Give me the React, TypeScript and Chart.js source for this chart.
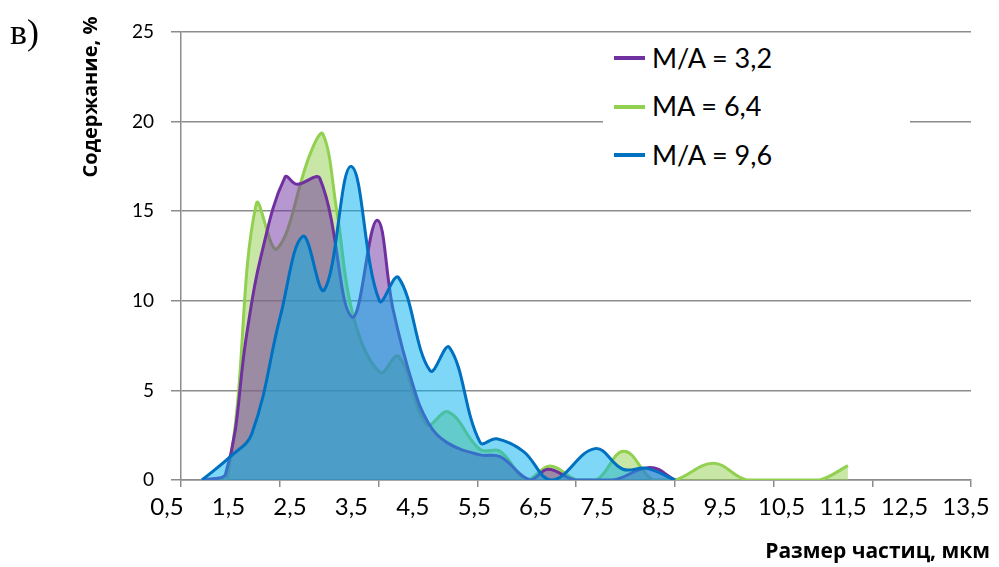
import React, { useEffect, useRef } from 'react';
import { Chart, registerables } from 'chart.js';

Chart.register(...registerables);

// ---- data ----
const seriesNames = ['M/A = 3,2', 'MA = 6,4', 'M/A = 9,6'];

const purpleX = [1.09, 1.45, 1.8, 2.017, 2.42, 2.61, 2.99, 3.508, 3.915, 4.18, 4.51, 4.75, 5.05, 5.594, 5.92, 6.41, 6.7, 7.14, 7.76, 8.36, 8.765];
const purpleY = [0, 0.3, 8.2, 12.3, 16.9, 16.5, 16.8, 9.1, 14.5, 9.5, 5.2, 3.2, 2.1, 1.4, 1.3, 0, 0.6, 0, 0, 0.7, 0];

const greenX = [1.09, 1.476, 1.952, 2.289, 2.83, 3.037, 3.264, 3.534, 3.968, 4.266, 4.728, 5.079, 5.594, 5.92, 6.354, 6.733, 7.167, 7.49, 7.936, 8.407, 8.765, 9.39, 9.93, 10.63, 11.12, 11.58];
const greenY = [0, 0, 15.4, 12.9, 18.2, 19.3, 15, 9.1, 6.0, 6.9, 3.1, 3.8, 1.7, 1.6, 0, 0.78, 0, 0, 1.6, 0, 0, 0.93, 0, 0, 0, 0.8];

const blueX = [1.069, 1.529, 1.882, 2.342, 2.711, 3.058, 3.497, 3.957, 4.266, 4.781, 5.095, 5.594, 5.866, 6.298, 6.76, 7.464, 7.919, 8.305, 8.765];
const blueY = [0, 1.3, 2.6, 9.1, 13.6, 10.6, 17.5, 10.0, 11.3, 6.1, 7.4, 2.1, 2.3, 1.6, 0, 1.75, 0.6, 0.65, 0];

const xTickValues = [0.5, 1.5, 2.5, 3.5, 4.5, 5.5, 6.5, 7.5, 8.5, 9.5, 10.5, 11.5, 12.5, 13.5];
const xMin = 0.728;
const xMax = 13.582;
const yMin = 0;
const yMax = 25;
const yStep = 5;

const xTitle = 'Размер частиц, мкм';
const yTitle = 'Содержание, %';
const panelLabel = 'в)';

const LINE_COLORS = ['#7030A0', '#92D050', '#0070C0'];
const FILL_COLORS = ['rgba(112,48,160,0.5)', 'rgba(146,208,80,0.5)', 'rgba(0,176,240,0.5)'];
const GRID = '#8c8c8c';

const toPoints = (xs: number[], ys: number[]) => xs.map((x, i) => ({ x, y: ys[i] }));

export default function App() {
  const ref = useRef<HTMLCanvasElement>(null);

  useEffect(() => {
    const seriesX = [purpleX, greenX, blueX];
    const seriesY = [purpleY, greenY, blueY];
    const orders = [2, 3, 1];
    const chart = new Chart(ref.current as HTMLCanvasElement, {
      type: 'line',
      data: {
        datasets: seriesNames.map((name, i) => ({
          label: name,
          data: toPoints(seriesX[i], seriesY[i]),
          borderColor: LINE_COLORS[i],
          backgroundColor: FILL_COLORS[i],
          borderWidth: 3,
          fill: 'origin',
          tension: 0.4,
          pointRadius: 0,
          order: orders[i],
        })),
      },
      options: {
        responsive: false,
        animation: false,
        devicePixelRatio: 1,
        layout: { padding: { top: 32, right: 28, bottom: 0, left: 0 } },
        plugins: {
          legend: { display: false },
          tooltip: { enabled: false },
        },
        scales: {
          x: {
            type: 'linear',
            position: 'bottom',
            weight: 1,
            min: xMin,
            max: xMax,
            grid: { display: false },
            border: { display: false },
            afterBuildTicks: (scale: any) => {
              scale.ticks = xTickValues.map((v) => ({ value: v }));
            },
            afterFit: (scale: any) => {
              scale.height = 80;
            },
            ticks: {
              autoSkip: false,
              maxRotation: 0,
              minRotation: 0,
              padding: -2,
              color: '#000',
              font: { family: 'Lato', size: 24 },
              callback: (v: any) => Number(v).toFixed(1).replace('.', ','),
            },
          },
          xt: {
            type: 'linear',
            axis: 'x',
            position: 'bottom',
            weight: 0,
            min: 0,
            max: 8,
            ticks: { display: false, stepSize: 1 },
            grid: { drawOnChartArea: false, drawTicks: true, tickLength: 7, color: GRID, lineWidth: 1.5 },
            border: { display: true, color: GRID, width: 1.5 },
            afterFit: (scale: any) => {
              scale.height = 7;
            },
          },
          y: {
            type: 'linear',
            min: yMin,
            max: yMax,
            afterFit: (scale: any) => {
              scale.width = 181;
            },
            grid: { color: GRID, lineWidth: 1.5, tickLength: 10 },
            border: { display: true, color: GRID, width: 1.5 },
            ticks: {
              stepSize: yStep,
              padding: 17,
              color: '#000',
              font: { family: 'Lato', size: 19 },
            },
          },
        },
      } as any,
    });
    return () => chart.destroy();
  }, []);

  const legendRows = [58, 106.5, 155];

  return (
    <div style={{ position: 'absolute', left: 0, top: 0, width: 999, height: 567, background: '#fff', overflow: 'hidden' }}>
      <canvas ref={ref} width={999} height={567} style={{ position: 'absolute', left: 0, top: 0, width: 999, height: 567 }} />
      <div style={{ position: 'absolute', left: 10, top: 14, fontFamily: '"Liberation Serif", serif', fontSize: 36, lineHeight: 1, color: '#000' }}>
        {panelLabel}
      </div>
      <div
        style={{
          position: 'absolute', left: 90, top: 97, transform: 'translate(-50%, -50%) rotate(-90deg)',
          fontFamily: '"Open Sans", sans-serif', fontWeight: 700, fontSize: 20, lineHeight: 1, whiteSpace: 'nowrap', color: '#000',
        }}
      >
        {yTitle}
      </div>
      <div
        style={{
          position: 'absolute', right: 9, top: 551 - 21 * 0.53, fontFamily: '"Open Sans", sans-serif', fontWeight: 700,
          fontSize: 21, lineHeight: 1, whiteSpace: 'nowrap', color: '#000',
        }}
      >
        {xTitle}
      </div>
      <div style={{ position: 'absolute', left: 603, top: 40, width: 307, height: 160, background: '#fff' }} />
      {seriesNames.map((name, i) => (
        <React.Fragment key={name}>
          <div style={{ position: 'absolute', left: 614, top: legendRows[i] - 2, width: 31, height: 4, background: LINE_COLORS[i] }} />
          <div
            style={{
              position: 'absolute', left: 652, top: legendRows[i] - 27 * 0.53, fontFamily: 'Lato, sans-serif', fontSize: 27,
              lineHeight: 1, whiteSpace: 'nowrap', color: '#000',
            }}
          >
            {name}
          </div>
        </React.Fragment>
      ))}
    </div>
  );
}
